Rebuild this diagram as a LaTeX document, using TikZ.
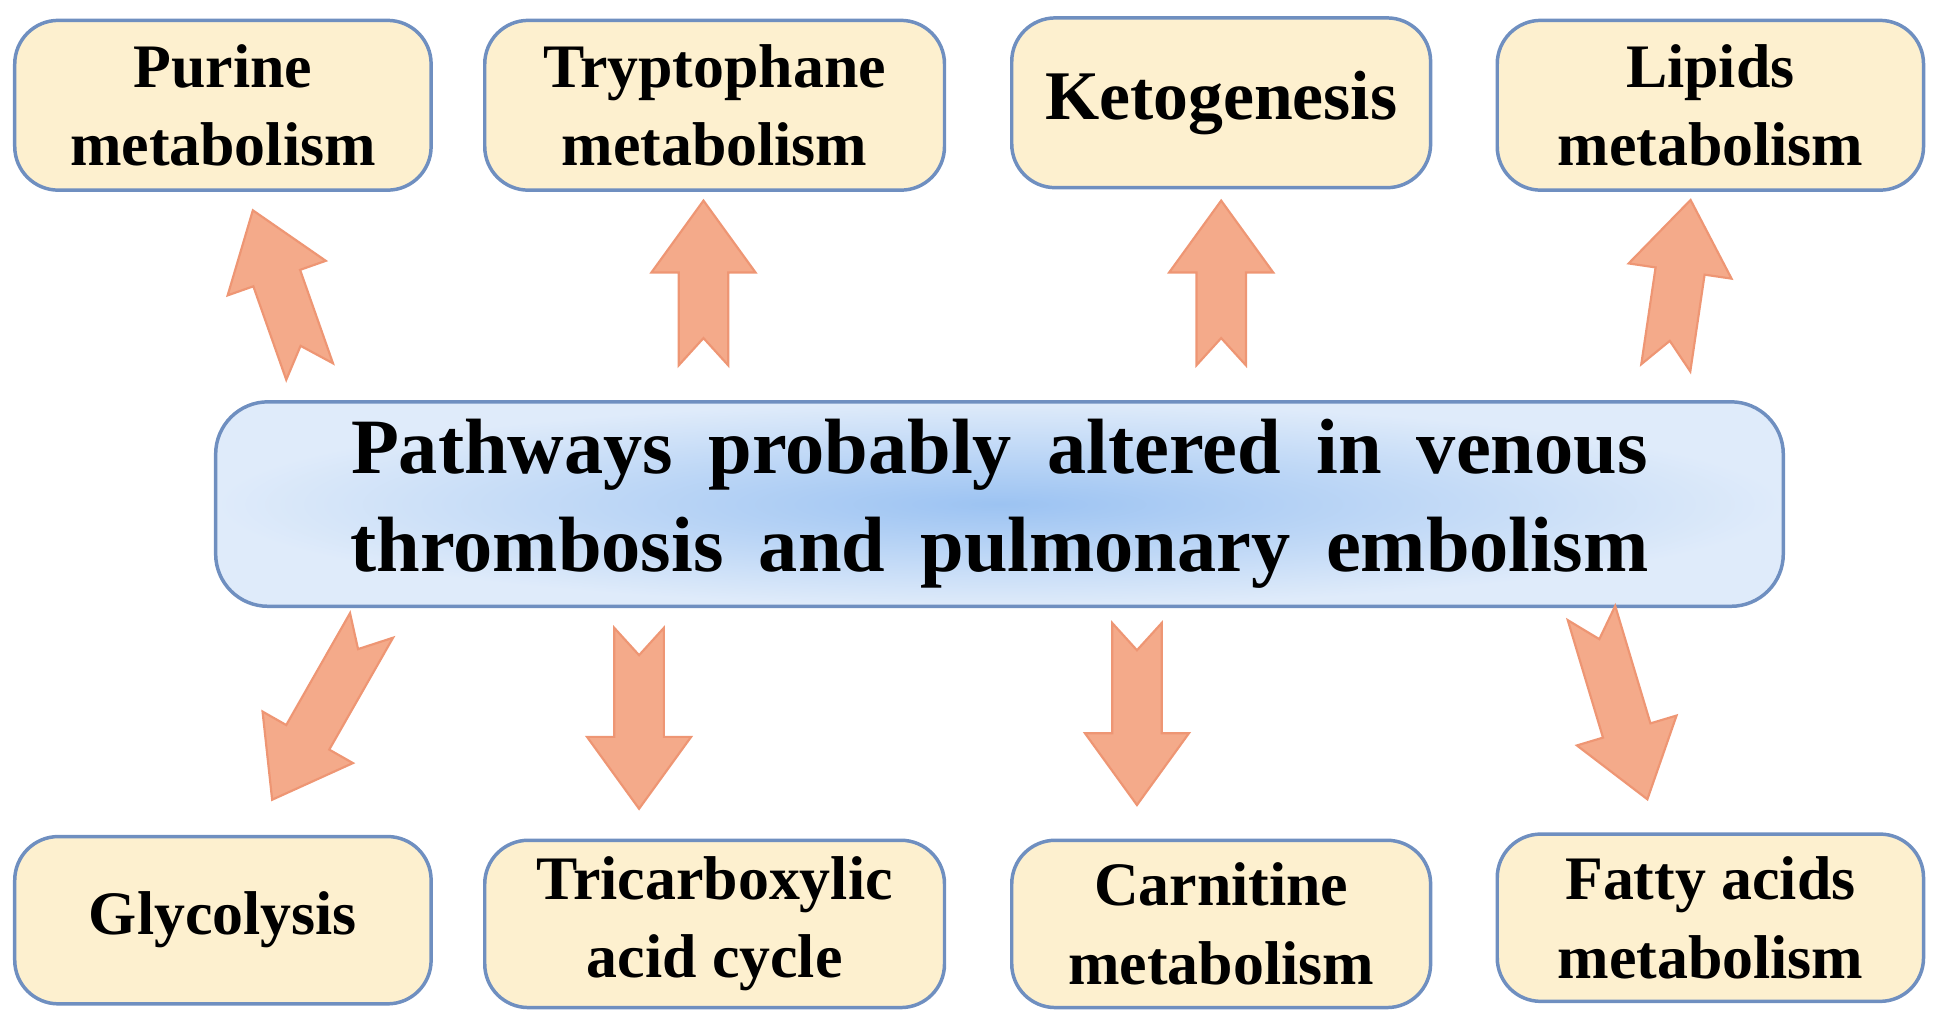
\documentclass[tikz,border=0pt]{standalone}
\usepackage{fontspec}
\setmainfont{Liberation Serif}
\definecolor{boxfill}{HTML}{FDF0CF}
\definecolor{boxline}{HTML}{6F8FC0}
\definecolor{arrfill}{HTML}{F4AA8A}
\definecolor{arrline}{HTML}{EE9674}
\definecolor{cin}{HTML}{9CC3F2}
\definecolor{cout}{HTML}{DFEBFA}
\tikzset{
 pbox/.style={draw=boxline, line width=0.8pt, fill=boxfill, rounded corners=10pt, align=center,
   font=\fontsize{14.2}{18}\selectfont\bfseries, inner sep=0pt},
 bigbox/.style={draw=boxline, line width=0.8pt, rounded corners=12pt, align=center,
   inner color=cin, outer color=cout, inner sep=0pt,
   font=\fontsize{18}{22.5}\selectfont\bfseries},
 barr/.style={fill=arrfill, draw=arrline, line width=0.5pt}
}
\newcommand\blockarrow[3]{% x, y, angle, length
 \draw[barr, shift={(#1)}, rotate=#2] (0,-20)--(#3-58,-20)--(#3-58,-42)--(#3,0)--(#3-58,42)--(#3-58,20)--(0,20)--(22,0)--cycle;}
\newcommand\widesp{\hspace{0.45em}}
\begin{document}
\begin{tikzpicture}[x=0.01cm,y=-0.01cm]
\useasboundingbox (0,0) rectangle (1568,825);
\node[pbox, minimum width=3.36cm, minimum height=1.37cm] (p1) at (180,85) {Purine\\metabolism};
\node[pbox, minimum width=3.71cm, minimum height=1.37cm] (p2) at (577,85) {Tryptophane\\metabolism};
\node[pbox, minimum width=3.38cm, minimum height=1.37cm, font=\fontsize{16}{19}\selectfont\bfseries] (p3) at (986,83) {Ketogenesis};
\node[pbox, minimum width=3.44cm, minimum height=1.37cm] (p4) at (1381,85) {Lipids\\metabolism};
\node[pbox, minimum width=3.36cm, minimum height=1.35cm] (q1) at (180,743) {Glycolysis};
\node[pbox, minimum width=3.71cm, minimum height=1.35cm] (q2) at (577,746) {Tricarboxylic\\acid cycle};
\node[pbox, minimum width=3.38cm, minimum height=1.35cm] (q3) at (986,746) {Carnitine\\metabolism};
\node[pbox, minimum width=3.44cm, minimum height=1.35cm] (q4) at (1381,741) {Fatty acids\\metabolism};
\node[bigbox, minimum width=12.65cm, minimum height=1.65cm] (c) at (807,407) {Pathways\widesp probably\widesp altered\widesp in\widesp venous\\thrombosis\widesp and\widesp pulmonary\widesp embolism};
\blockarrow{250,300}{109.4}{138}
\blockarrow{568,295}{90}{133}
\blockarrow{986,295}{90}{133}
\blockarrow{1345,297}{81.6}{137}
\blockarrow{300,505}{240.3}{162}
\blockarrow{516,507}{270}{146}
\blockarrow{918,503}{270}{147}
\blockarrow{1285,495}{286.7}{157}
\end{tikzpicture}
\end{document}
